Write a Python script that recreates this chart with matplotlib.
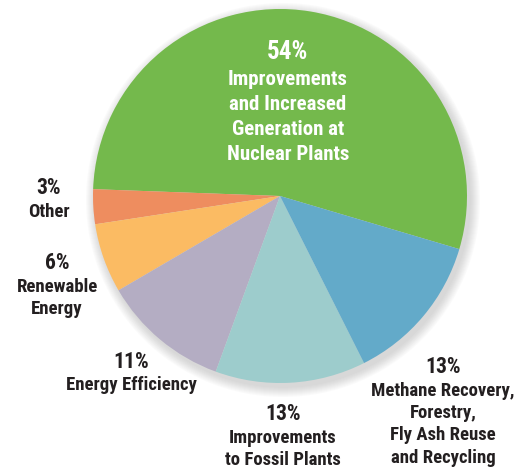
import matplotlib
matplotlib.use("Agg")
import matplotlib.pyplot as plt
from matplotlib.patches import Circle

# slice data, counterclockwise from the green/blue border
shares = [54, 3, 6, 11, 13, 13]
colors = ["#74b94c", "#ee8d5f", "#fbbb63", "#b4adc3", "#9dcccc", "#63aac9"]
pcts = ["54%", "3%", "6%", "11%", "13%", "13%"]
names = [["Improvements", "and Increased", "Generation at", "Nuclear Plants"],
         ["Other"],
         ["Renewable", "Energy"],
         ["Energy Efficiency"],
         ["Improvements", "to Fossil Plants"],
         ["Methane Recovery,", "Forestry,", "Fly Ash Reuse", "and Recycling"]]

W, H = 531, 469
fig = plt.figure(figsize=(W/100, H/100), dpi=100)
ax = fig.add_axes([0, 0, 1, 1])

cx, cy, R = 280, H-196, 187
# soft shadow
for i in range(10):
    ax.add_patch(Circle((cx+3, cy-4), R+1+i*1.0, color="0.55", alpha=0.035, lw=0, zorder=0))

ax.pie(shares, colors=colors, startangle=-16.5, counterclock=True, center=(cx, cy), radius=R,
       wedgeprops=dict(linewidth=0), frame=True)
ax.set_xlim(0, W); ax.set_ylim(0, H); ax.set_aspect("equal"); ax.axis("off")

fam = ["Roboto Condensed", "Archivo Narrow", "DejaVu Sans"]
# label anchors (top line y) in image pixels
pos = [(288, 52), (49, 188), (57, 263), (131, 362), (283, 414), (443, 367)]
for k, (x, y) in enumerate(pos):
    inner = k == 0
    c = "white" if inner else "#231f20"
    ax.text(x, H-y, pcts[k], ha="center", va="center", color=c, family=fam, weight="bold",
            fontsize=18 if inner else 15.5)
    step = 25 if inner else 22.5
    for j, line in enumerate(names[k]):
        ax.text(x, H-(y+(27 if inner else 23.5)+j*step), line, ha="center", va="center", color=c,
                family=fam, weight="bold", fontsize=15 if inner else 13.5)

fig.savefig("out.png", dpi=100)
